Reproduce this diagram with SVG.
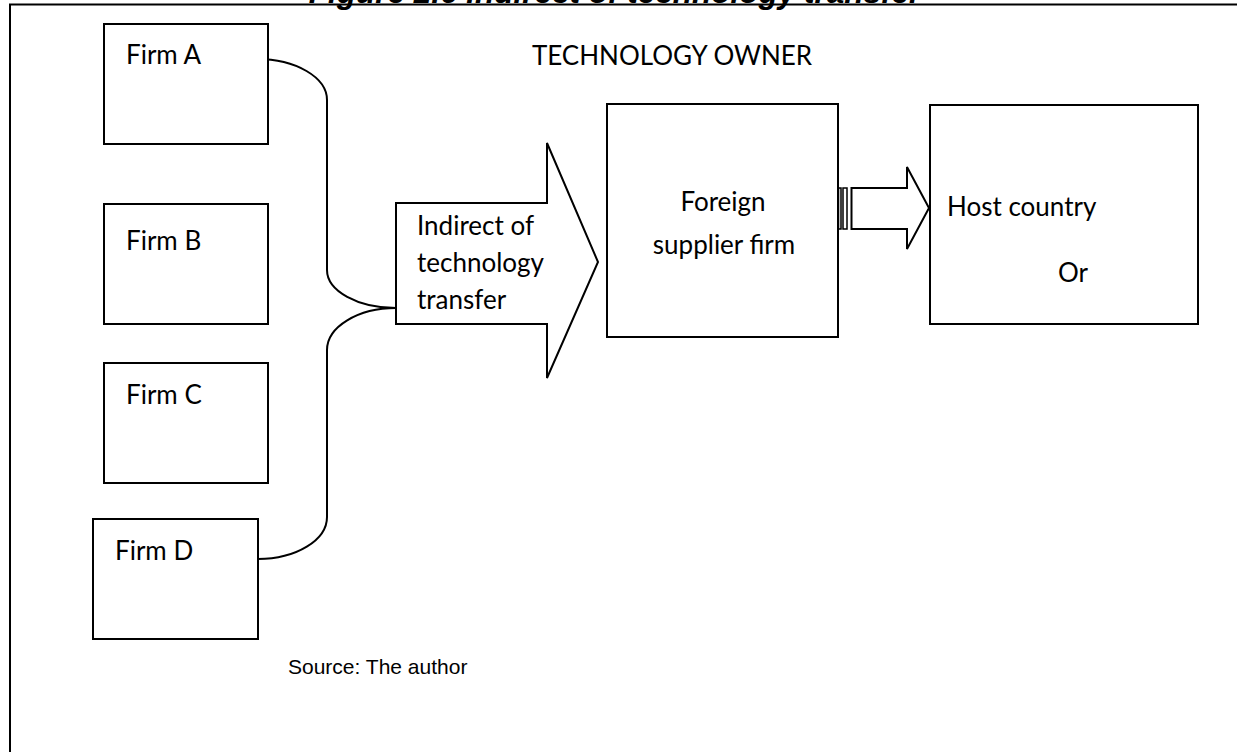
<svg xmlns="http://www.w3.org/2000/svg" width="1237" height="752" viewBox="0 0 1237 752">
<style>
.box{fill:#fff;stroke:#000;stroke-width:2}
.ln{fill:none;stroke:#000;stroke-width:2}
.t{font-family:Lato,"Open Sans",sans-serif;font-size:26px;fill:#000}
.src{font-family:"Liberation Sans",Arial,sans-serif;font-size:21px;fill:#000}
.title{font-family:"Liberation Sans",Arial,sans-serif;font-size:31.5px;font-weight:bold;font-style:italic;fill:#000}
</style>
<rect width="1237" height="752" fill="#fff"/>
<g id="frame">
<path class="ln" d="M10,752 L10,4.5 L1237,4.5"/>
<text class="title" x="615" y="3" text-anchor="middle">Figure 2.6 Indirect of technology transfer</text>
</g>
<g id="connectors">
<path class="ln" d="M257,59 A70,41 0 0 1 327,100 L327,270 A69,38 0 0 0 396,308"/>
<path class="ln" d="M396,308 A69,42 0 0 0 327,350 L327,517 A69,42 0 0 1 258,559"/>
</g>
<g id="firmA"><rect class="box" x="104" y="24" width="164" height="120"/><text class="t" x="126" y="64">Firm A</text></g>
<g id="firmB"><rect class="box" x="104" y="204" width="164" height="120"/><text class="t" x="126" y="250">Firm B</text></g>
<g id="firmC"><rect class="box" x="104" y="363" width="164" height="120"/><text class="t" x="126" y="404">Firm C</text></g>
<g id="firmD"><rect class="box" x="93" y="519" width="165" height="120"/><text class="t" x="115" y="560">Firm D</text></g>
<g id="owner"><text class="t" x="672" y="65" text-anchor="middle">TECHNOLOGY OWNER</text></g>
<g id="indirect">
<path class="box" d="M396,203 L547,203 L547,143 L598,262 L547,378 L547,324 L396,324 Z"/>
<text class="t" x="417" y="235">Indirect of</text>
<text class="t" x="417" y="272">technology</text>
<text class="t" x="417" y="309">transfer</text>
</g>
<g id="foreign">
<rect class="box" x="607" y="104" width="231" height="233"/>
<text class="t" x="723" y="211" text-anchor="middle">Foreign</text>
<text class="t" x="724" y="254" text-anchor="middle">supplier firm</text>
</g>
<g id="host">
<rect class="box" x="930" y="105" width="268" height="219"/>
<text class="t" x="947" y="216">Host country</text>
<text class="t" x="1058" y="282">Or</text>
</g>
<g id="arrow2">
<rect class="box" x="838.5" y="188" width="2.5" height="41" style="stroke-width:1.5"/>
<rect class="box" x="843" y="188" width="4" height="41" style="stroke-width:1.5"/>
<path class="box" d="M851.5,188 L907,188 L907,167 L929,208 L907,249 L907,229 L851.5,229 Z"/>
</g>
<g id="source"><text class="src" x="288" y="674">Source: The author</text></g>
</svg>
